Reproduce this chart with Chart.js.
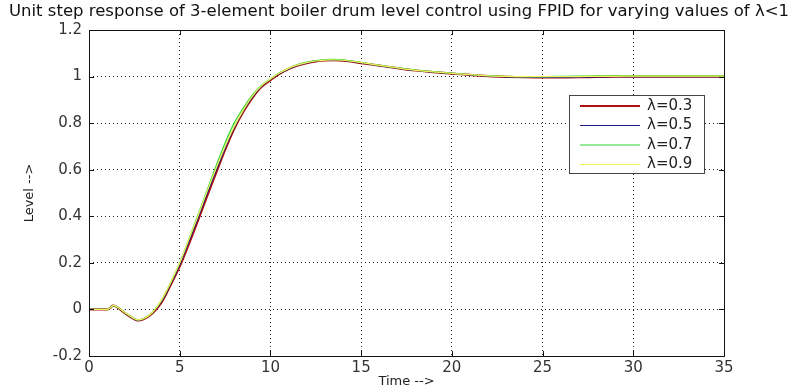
<!DOCTYPE html>
<html>
<head>
<meta charset="utf-8">
<script src="https://cdn.jsdelivr.net/npm/chart.js@4/dist/chart.umd.min.js"></script>
<style>
  html, body { margin: 0; padding: 0; background: #fff; }
  #wrap { width: 793px; height: 392px; position: relative; }
</style>
</head>
<body>
<div id="wrap"><canvas id="c" width="793" height="392"></canvas></div>
<script>
// ---- data ----
const titleText = "Unit step response of 3-element boiler drum level control using FPID for varying values of \u03BB<1";
const xAxisTitle = "Time -->";
const yAxisTitle = "Level -->";
const seriesLabels = ["\u03BB=0.3", "\u03BB=0.5", "\u03BB=0.7", "\u03BB=0.9"];

const timeValues = [0,0.5,1,1.2,1.3,1.5,2,2.5,2.7,3,3.5,
  4,4.5,5,5.5,6,6.5,7,7.5,8,8.5,9,9.5,10,
  10.5,11,11.5,12,12.5,13,13.5,14,
  15,16,17,18,19,20,21,22,23,24,25,26,27,28,29,30,31,32,33,34,35];

const lambda03 = [0,0,0,0.008,0.016,0.012,-0.017,-0.042,-0.047,-0.042,-0.016,
  0.03,0.105,0.185,0.28,0.38,0.485,0.585,0.685,0.775,0.848,0.908,0.955,0.985,
  1.012,1.032,1.048,1.058,1.065,1.069,1.07,1.068,
  1.058,1.047,1.036,1.026,1.019,1.013,1.007,1.002,0.999,0.997,0.996,0.996,0.997,0.999,1.0,1.0,1.0,1.0,1.0,1.0,1.0];

const lambda05 = [0,0,0,0.008,0.016,0.013,-0.016,-0.041,-0.046,-0.041,-0.014,
  0.035,0.11,0.192,0.29,0.39,0.495,0.595,0.692,0.78,0.852,0.912,0.958,0.988,
  1.013,1.033,1.049,1.059,1.066,1.07,1.071,1.069,
  1.059,1.047,1.036,1.026,1.019,1.013,1.007,1.002,0.999,0.997,0.996,0.996,0.997,0.999,1.0,1.0,1.0,1.0,1.0,1.0,1.0];

const lambda07 = [0,0,0,0.008,0.016,0.013,-0.015,-0.04,-0.045,-0.04,-0.012,
  0.04,0.115,0.2,0.3,0.405,0.51,0.615,0.715,0.8,0.865,0.92,0.962,0.99,
  1.016,1.036,1.052,1.062,1.069,1.073,1.074,1.072,
  1.061,1.049,1.038,1.028,1.021,1.015,1.009,1.004,1.001,1.0,1.0,1.001,1.002,1.003,1.003,1.003,1.003,1.003,1.003,1.003,1.003];

const lambda09 = [0,0,0,0.008,0.016,0.013,-0.015,-0.04,-0.045,-0.04,-0.012,
  0.04,0.115,0.2,0.3,0.4,0.505,0.605,0.7,0.785,0.855,0.915,0.96,0.99,
  1.015,1.035,1.05,1.06,1.067,1.071,1.072,1.07,
  1.06,1.048,1.037,1.027,1.02,1.014,1.008,1.003,1.001,1.0,1.0,1.0,1.0,1.001,1.001,1.002,1.002,1.002,1.002,1.002,1.002];

const seriesValues = [lambda03, lambda05, lambda07, lambda09];
const seriesColors = ["#b01010", "#1c1c8a", "#2ed42e", "#f2f25a"];
const seriesWidths = [2.2, 1.2, 1.2, 1.2];

const xTickStep = 5, xMin = 0, xMax = 35;
const yTickStep = 0.2, yMin = -0.2, yMax = 1.2;

// ---- chart ----
const FONT = "'DejaVu Sans', sans-serif";

const frameAndText = {
  id: 'frameAndText',
  afterDraw(chart) {
    const ctx = chart.ctx;
    const a = chart.chartArea;
    const xs = chart.scales.x, ys = chart.scales.y;
    ctx.save();
    // box
    ctx.strokeStyle = '#111';
    ctx.lineWidth = 1;
    ctx.strokeRect(Math.round(a.left) + 0.5, Math.round(a.top) + 0.5,
                   Math.round(a.right - a.left), Math.round(a.bottom - a.top));
    // inward ticks
    ctx.beginPath();
    xs.ticks.forEach(t => {
      const px = Math.round(xs.getPixelForValue(t.value)) + 0.5;
      ctx.moveTo(px, a.bottom); ctx.lineTo(px, a.bottom - 5);
      ctx.moveTo(px, a.top); ctx.lineTo(px, a.top + 5);
    });
    ys.ticks.forEach(t => {
      const py = Math.round(ys.getPixelForValue(t.value)) + 0.5;
      ctx.moveTo(a.left, py); ctx.lineTo(a.left + 5, py);
      ctx.moveTo(a.right, py); ctx.lineTo(a.right - 5, py);
    });
    ctx.stroke();

    // title (stretched horizontally like the reference)
    ctx.fillStyle = '#111';
    ctx.font = "15px " + FONT;
    ctx.textAlign = 'center';
    ctx.textBaseline = 'middle';
    const tw = ctx.measureText(titleText).width;
    const sx = 780 / tw;
    ctx.save();
    ctx.translate(399, 12);
    ctx.scale(sx, 1);
    ctx.fillText(titleText, 0, 0);
    ctx.restore();

    // axis titles
    ctx.font = "13px " + FONT;
    ctx.fillStyle = '#222';
    ctx.fillText(xAxisTitle, (a.left + a.right) / 2, 382);
    ctx.save();
    ctx.translate(30, (a.top + a.bottom) / 2);
    ctx.rotate(-Math.PI / 2);
    ctx.fillText(yAxisTitle, 0, 0);
    ctx.restore();

    // legend
    const lx = a.right - 155, ly = a.top + 65, lw = 135, lh = 78;
    ctx.fillStyle = '#fff';
    ctx.fillRect(lx, ly, lw, lh);
    ctx.strokeStyle = '#444';
    ctx.lineWidth = 1;
    ctx.strokeRect(lx + 0.5, ly + 0.5, lw, lh);
    ctx.font = "15px " + FONT;
    ctx.textAlign = 'left';
    ctx.textBaseline = 'middle';
    chart.data.datasets.forEach((ds, i) => {
      const yy = ly + 11 + i * 19.5;
      ctx.strokeStyle = ds.borderColor;
      ctx.lineWidth = ds.borderWidth;
      ctx.beginPath();
      ctx.moveTo(lx + 11, yy); ctx.lineTo(lx + 71, yy);
      ctx.stroke();
      ctx.fillStyle = '#222';
      ctx.fillText(ds.label, lx + 78, yy);
    });
    ctx.restore();
  }
};

const datasets = seriesLabels.map((lab, i) => ({
  label: lab,
  data: timeValues.map((t, k) => ({ x: t, y: seriesValues[i][k] })),
  borderColor: seriesColors[i],
  backgroundColor: seriesColors[i],
  borderWidth: seriesWidths[i],
  pointRadius: 0,
  cubicInterpolationMode: 'monotone',
  fill: false,
  order: 3 - i
}));

new Chart(document.getElementById('c'), {
  type: 'line',
  data: { datasets },
  options: {
    responsive: false,
    animation: false,
    devicePixelRatio: 1,
    layout: { padding: { left: 0, top: 30, right: 69, bottom: 0 } },
    plugins: { legend: { display: false }, title: { display: false }, tooltip: { enabled: false } },
    scales: {
      x: {
        type: 'linear', min: xMin, max: xMax,
        ticks: { stepSize: xTickStep, color: '#333', font: { family: FONT, size: 15 }, padding: 3, maxRotation: 0 },
        grid: { color: '#222', lineWidth: 1, drawTicks: false },
        border: { display: false, dash: [1, 3] },
        afterFit(s) { s.height = 36; }
      },
      y: {
        type: 'linear', min: yMin, max: yMax,
        ticks: { stepSize: yTickStep, color: '#333', font: { family: FONT, size: 15 }, padding: 7,
                 callback: v => String(Number(v.toFixed(1))) },
        grid: { color: '#222', lineWidth: 1, drawTicks: false },
        border: { display: false, dash: [1, 3] },
        afterFit(s) { s.width = 89; }
      }
    }
  },
  plugins: [frameAndText]
});
</script>
</body>
</html>
